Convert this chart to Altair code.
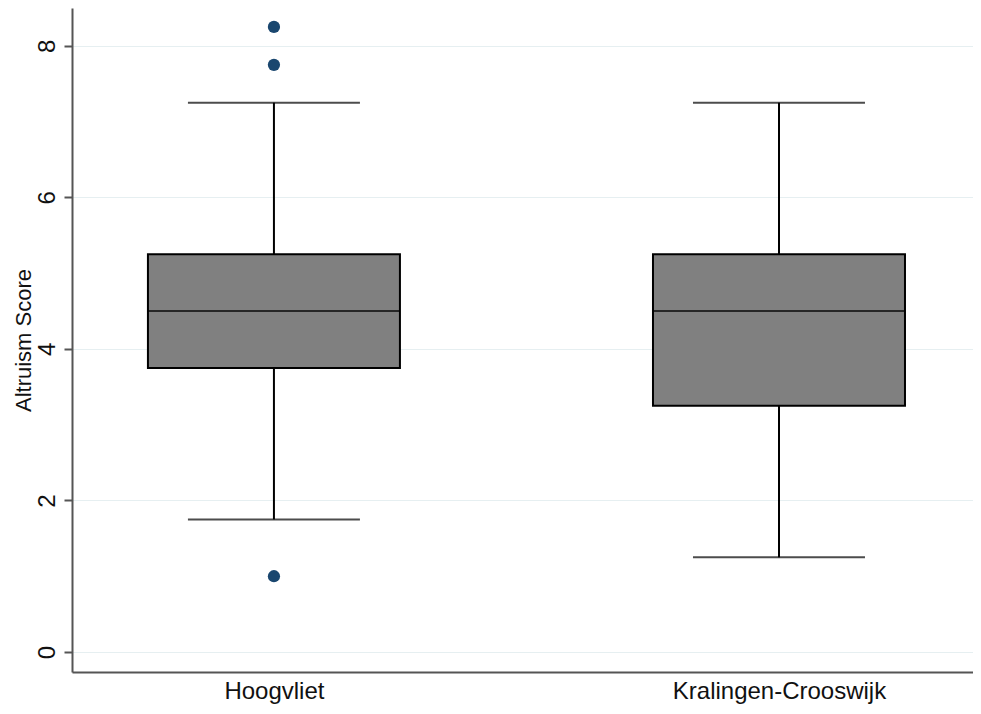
import altair as alt
import pandas as pd

groups = ["Hoogvliet", "Kralingen-Crooswijk"]
lower_whisker = [1.75, 1.25]
q1 = [3.75, 3.25]
median = [4.5, 4.5]
q3 = [5.25, 5.25]
upper_whisker = [7.25, 7.25]

outlier_groups = ["Hoogvliet", "Hoogvliet", "Hoogvliet"]
outlier_values = [8.25, 7.75, 1.0]

y_ticks = [0, 2, 4, 6, 8]

stats = pd.DataFrame({
    "group": groups, "lo": lower_whisker, "q1": q1, "med": median,
    "q3": q3, "hi": upper_whisker,
})
outs = pd.DataFrame({"group": outlier_groups, "value": outlier_values})

FONT = "Liberation Sans"

x_enc = alt.X("group:N", sort=groups,
              scale=alt.Scale(type="point", padding=0.392, align=0.51),
              axis=alt.Axis(title=None, ticks=False, labelAngle=0, labelPadding=7,
                            labelLimit=0, grid=False))
y_scale = alt.Scale(domain=[-0.264, 8.5], nice=False, zero=False)
y_axis = alt.Axis(title="Altruism Score", values=y_ticks, format="d", labelAngle=270,
                  labelPadding=17, labelBaseline="middle", labelAlign="center",
                  titlePadding=0, tickSize=8, grid=True)

base = alt.Chart(stats)

whisk_hi = base.mark_rule(color="black", strokeWidth=2).encode(
    x=x_enc, y=alt.Y("q3:Q", scale=y_scale, axis=y_axis), y2="hi:Q")
whisk_lo = base.mark_rule(color="black", strokeWidth=2).encode(
    x=x_enc, y=alt.Y("lo:Q", scale=y_scale, axis=y_axis), y2="q1:Q")
cap_hi = base.mark_tick(color="black", size=172, thickness=2).encode(
    x=x_enc, y=alt.Y("hi:Q", scale=y_scale, axis=y_axis))
cap_lo = base.mark_tick(color="black", size=172, thickness=2).encode(
    x=x_enc, y=alt.Y("lo:Q", scale=y_scale, axis=y_axis))
box = base.mark_bar(size=252, color="#808080", stroke="black", strokeWidth=2).encode(
    x=x_enc, y=alt.Y("q1:Q", scale=y_scale, axis=y_axis), y2="q3:Q")
med = base.mark_tick(color="black", size=252, thickness=2).encode(
    x=x_enc, y=alt.Y("med:Q", scale=y_scale, axis=y_axis))
pts = alt.Chart(outs).mark_circle(size=150, color="#1a476f", opacity=1).encode(
    x=x_enc, y=alt.Y("value:Q", scale=y_scale, axis=y_axis))

chart = alt.layer(whisk_hi, whisk_lo, cap_hi, cap_lo, box, med, pts).properties(
    width=901, height=664,
    autosize=alt.AutoSizeParams(type="none"),
    padding={"left": 64, "top": 0, "right": 0, "bottom": 34},
    background="white",
).configure_view(
    stroke=None
).configure_axis(
    labelFont=FONT, labelFontSize=24, labelColor="#111111",
    titleFont=FONT, titleFontSize=22, titleFontWeight="normal", titleColor="#111111",
    domainColor="#555555", domainWidth=2, tickColor="#555555", tickWidth=2,
    gridColor="#e6eff1", gridWidth=1.2,
)

chart.save("out.html", embed_options={"renderer": "svg", "actions": False})
